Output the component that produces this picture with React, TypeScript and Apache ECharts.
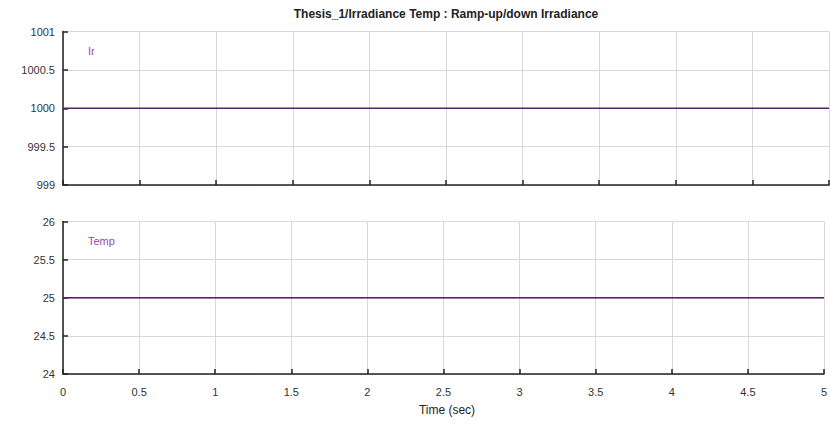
import React, { useEffect, useRef } from "react";
import * as echarts from "echarts";

const timeSec = [0, 5];
const irradiance = [1000, 1000];
const temperature = [25, 25];
const xTicks = ["0", "0.5", "1", "1.5", "2", "2.5", "3", "3.5", "4", "4.5", "5"];
const irTicks = ["999", "999.5", "1000", "1000.5", "1001"];
const tempTicks = ["24", "24.5", "25", "25.5", "26"];
const titleText = "Thesis_1/Irradiance Temp : Ramp-up/down Irradiance";

export default function App() {
  const ref = useRef<HTMLDivElement>(null);
  useEffect(() => {
    if (!ref.current) return;
    const chart = echarts.init(ref.current, null, { renderer: "svg" });
    const font = "Liberation Sans, Arial, sans-serif";
    const lineColor = "#5c1f6e";
    const axisCommon = {
      axisLine: { show: true, lineStyle: { color: "#222", width: 1.5 } },
      axisTick: { show: true, inside: true, length: 5, lineStyle: { color: "#222", width: 1.5 } },
      splitLine: { show: true, lineStyle: { color: "#d8d8d8", width: 1 } },
    };
    const xAxisBase = (gridIndex: number, showLabel: boolean) => ({
      type: "value",
      gridIndex,
      min: 0,
      max: 5,
      interval: 0.5,
      ...axisCommon,
      axisLabel: {
        show: showLabel,
        color: "#333",
        fontSize: 11,
        fontFamily: font,
        margin: 12,
        formatter: (v: number) => xTicks[Math.round(v / 0.5)] ?? String(v),
      },
    });
    chart.setOption({
      animation: false,
      backgroundColor: "#fff",
      textStyle: { fontFamily: font },
      grid: [
        { left: 63, right: 1, top: 31.5, height: 153.5 },
        { left: 63, right: 1, top: 221.5, height: 152.5 },
      ],
      xAxis: [xAxisBase(0, false), xAxisBase(1, true)],
      yAxis: [
        {
          type: "value",
          gridIndex: 0,
          min: 999,
          max: 1001,
          interval: 0.5,
          ...axisCommon,
          axisLabel: {
            color: "#333",
            fontSize: 11,
            fontFamily: font,
            margin: 8,
            formatter: (v: number) => irTicks[Math.round((v - 999) / 0.5)] ?? String(v),
          },
        },
        {
          type: "value",
          gridIndex: 1,
          min: 24,
          max: 26,
          interval: 0.5,
          ...axisCommon,
          axisLabel: {
            color: "#333",
            fontSize: 11,
            fontFamily: font,
            margin: 8,
            formatter: (v: number) => tempTicks[Math.round((v - 24) / 0.5)] ?? String(v),
          },
        },
      ],
      series: [
        {
          type: "line",
          name: "Ir",
          xAxisIndex: 0,
          yAxisIndex: 0,
          data: timeSec.map((t, i) => [t, irradiance[i]]),
          showSymbol: false,
          lineStyle: { color: lineColor, width: 1.5 },
        },
        {
          type: "line",
          name: "Temp",
          xAxisIndex: 1,
          yAxisIndex: 1,
          data: timeSec.map((t, i) => [t, temperature[i]]),
          showSymbol: false,
          lineStyle: { color: lineColor, width: 1.5 },
        },
      ],
      graphic: [
        {
          type: "text",
          style: {
            text: titleText,
            x: 446,
            y: 14,
            textAlign: "center",
            textVerticalAlign: "middle",
            fontSize: 12,
            fontWeight: "bold",
            fontFamily: font,
            fill: "#222",
          },
        },
        {
          type: "text",
          style: {
            text: "Ir",
            x: 88,
            y: 51,
            textVerticalAlign: "middle",
            fontSize: 11,
            fontFamily: font,
            fill: "#a04aa8",
          },
        },
        {
          type: "text",
          style: {
            text: "Temp",
            x: 88,
            y: 241,
            textVerticalAlign: "middle",
            fontSize: 11,
            fontFamily: font,
            fill: "#a04aa8",
          },
        },
        {
          type: "text",
          style: {
            text: "Time (sec)",
            x: 447,
            y: 410,
            textAlign: "center",
            textVerticalAlign: "middle",
            fontSize: 12,
            fontFamily: font,
            fill: "#222",
          },
        },
      ],
    });
    return () => chart.dispose();
  }, []);
  return <div ref={ref} style={{ width: 830, height: 424, position: "absolute", left: 0, top: 0 }} />;
}
